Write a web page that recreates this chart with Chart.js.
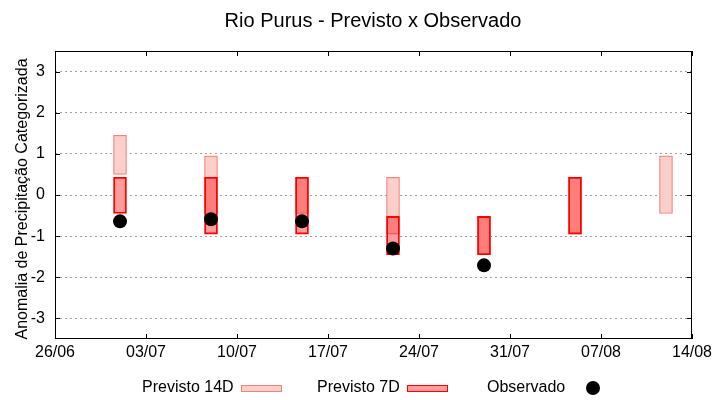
<!DOCTYPE html>
<html>
<head>
<meta charset="utf-8">
<script src="https://cdn.jsdelivr.net/npm/chart.js@4"></script>
<style>
  html, body { margin: 0; padding: 0; background: #fff; }
  #wrap { width: 720px; height: 400px; }
</style>
</head>
<body>
<div id="wrap"><canvas id="c" width="720" height="400"></canvas></div>
<script>
// ---------- data ----------
const chartTitle = 'Rio Purus - Previsto x Observado';
const yAxisTitle = 'Anomalia de Precipitação Categorizada';
const startDate = '26/06';
const xTickLabels = ['26/06', '03/07', '10/07', '17/07', '24/07', '31/07', '07/08', '14/08'];
const yTickValues = [-3, -2, -1, 0, 1, 2, 3];
const categories = ['01/07', '08/07', '15/07', '22/07', '29/07', '05/08', '12/08'];
const previsto14DLow  = [0.50, -0.45, -0.45, -0.95, -1.45, -0.95, -0.45];
const previsto14DHigh = [1.45,  0.95,  0.43,  0.43, -0.52,  0.43,  0.95];
const previsto7DLow   = [-0.45, -0.95, -0.95, -1.45, -1.45, -0.95, null];
const previsto7DHigh  = [ 0.43,  0.43,  0.43, -0.52, -0.52,  0.43, null];
const observado       = [-0.64, -0.59, -0.64, -1.30, -1.71, null, null];
const seriesLabels = ['Previsto 14D', 'Previsto 7D', 'Observado'];

// ---------- helpers ----------
function dayOffset(ddmm) {
  const [d, m] = ddmm.split('/').map(Number);
  const [d0, m0] = startDate.split('/').map(Number);
  return Math.round((Date.UTC(2024, m - 1, d) - Date.UTC(2024, m0 - 1, d0)) / 86400000);
}
const xs = categories.map(dayOffset);
function ranges(lo, hi) {
  const out = [];
  for (let i = 0; i < xs.length; i++) {
    if (lo[i] !== null && hi[i] !== null) out.push({ x: xs[i], y: [lo[i], hi[i]] });
  }
  return out;
}
function points(vals) {
  const out = [];
  for (let i = 0; i < xs.length; i++) if (vals[i] !== null) out.push({ x: xs[i], y: vals[i] });
  return out;
}
const xTickValues = xTickLabels.map(dayOffset);

const FONT = '"Liberation Sans", Arial, Helvetica, sans-serif';
const C14_FILL = '#fccfca', C14_BORDER = '#f2837a';
const C7_FILL = 'rgba(255,0,0,0.39)', C7_BORDER = '#ff0000';

Chart.defaults.font.family = FONT;
Chart.defaults.font.size = 16;
Chart.defaults.color = '#000';

const decorPlugin = {
  id: 'decor',
  afterDraw(chart) {
    const ctx = chart.ctx;
    const a = chart.chartArea;
    const xS = chart.scales.x, yS = chart.scales.y;
    ctx.save();
    // box
    ctx.strokeStyle = '#000';
    ctx.lineWidth = 1;
    ctx.strokeRect(Math.round(a.left) + 0.5, Math.round(a.top) + 0.5,
                   Math.round(a.right - a.left) - 1, Math.round(a.bottom - a.top) - 1);
    // inward tick marks
    const tl = 5;
    ctx.beginPath();
    xS.ticks.forEach(t => {
      const px = Math.round(xS.getPixelForValue(t.value)) + 0.5;
      ctx.moveTo(px, a.bottom); ctx.lineTo(px, a.bottom - tl);
      ctx.moveTo(px, a.top); ctx.lineTo(px, a.top + tl);
    });
    yS.ticks.forEach(t => {
      const py = Math.round(yS.getPixelForValue(t.value)) + 0.5;
      ctx.moveTo(a.left, py); ctx.lineTo(a.left + tl, py);
      ctx.moveTo(a.right, py); ctx.lineTo(a.right - tl, py);
    });
    ctx.stroke();

    // title
    ctx.fillStyle = '#000';
    ctx.font = '20px ' + FONT;
    ctx.textAlign = 'center';
    ctx.textBaseline = 'alphabetic';
    ctx.fillText(chartTitle, 373, 27);

    // y axis title
    ctx.save();
    ctx.translate(27, (a.top + a.bottom) / 2 + 4);
    ctx.rotate(-Math.PI / 2);
    ctx.font = '16px ' + FONT;
    ctx.textAlign = 'center';
    ctx.fillText(yAxisTitle, 0, 0);
    ctx.restore();

    // legend
    ctx.font = '16px ' + FONT;
    ctx.textAlign = 'left';
    ctx.textBaseline = 'alphabetic';
    const ly = 392;
    ctx.fillText(seriesLabels[0], 142, ly);
    ctx.fillStyle = C14_FILL; ctx.fillRect(241, 385, 41, 7);
    ctx.strokeStyle = C14_BORDER; ctx.strokeRect(241.5, 385.5, 40, 6);
    ctx.fillStyle = '#000';
    ctx.fillText(seriesLabels[1], 317, ly);
    ctx.fillStyle = '#ff9c9c'; ctx.fillRect(407, 385, 41, 7);
    ctx.strokeStyle = C7_BORDER; ctx.strokeRect(407.5, 385.5, 40, 6);
    ctx.fillStyle = '#000';
    ctx.fillText(seriesLabels[2], 487, ly);
    ctx.beginPath(); ctx.arc(593, 388, 7, 0, Math.PI * 2); ctx.fill();
    ctx.restore();
  }
};

new Chart(document.getElementById('c'), {
  type: 'bar',
  data: {
    datasets: [
      {
        type: 'line', label: seriesLabels[2], data: points(observado), showLine: false,
        pointRadius: 7, pointHoverRadius: 7, pointBackgroundColor: '#000', pointBorderWidth: 0,
        borderColor: '#000', order: 0
      },
      {
        label: seriesLabels[1], data: ranges(previsto7DLow, previsto7DHigh),
        backgroundColor: C7_FILL, borderColor: C7_BORDER, borderWidth: 1.2,
        barThickness: 13, grouped: false, borderSkipped: false, order: 1
      },
      {
        label: seriesLabels[0], data: ranges(previsto14DLow, previsto14DHigh),
        backgroundColor: C14_FILL, borderColor: C14_BORDER, borderWidth: 1.2,
        barThickness: 13, grouped: false, borderSkipped: false, order: 2
      },
      {
        label: 'backdrop', data: ranges(previsto7DLow, previsto7DHigh),
        backgroundColor: '#ffffff', borderWidth: 0,
        barThickness: 13, grouped: false, order: 3
      }
    ]
  },
  options: {
    responsive: false,
    animation: false,
    layout: { padding: { top: 51, right: 28, bottom: 0, left: 0 } },
    plugins: { legend: { display: false }, title: { display: false }, tooltip: { enabled: false } },
    scales: {
      x: {
        type: 'linear', min: 0, max: 49, offset: false,
        grid: { display: false, drawTicks: false },
        border: { display: false },
        afterBuildTicks: s => { s.ticks = xTickValues.map(v => ({ value: v })); },
        afterFit: s => { s.height = 61; },
        ticks: { padding: 4, maxRotation: 0, autoSkip: false,
                 callback: (v, i) => xTickLabels[i] }
      },
      y: {
        type: 'linear', min: -3.5, max: 3.5,
        grid: { color: '#a0a0a0', lineWidth: 1, drawTicks: false },
        border: { display: false, dash: [2, 3] },
        afterBuildTicks: s => { s.ticks = yTickValues.map(v => ({ value: v })); },
        afterFit: s => { s.width = 55; },
        ticks: { padding: 10, callback: v => String(v) }
      }
    }
  },
  plugins: [decorPlugin]
});
</script>
</body>
</html>
